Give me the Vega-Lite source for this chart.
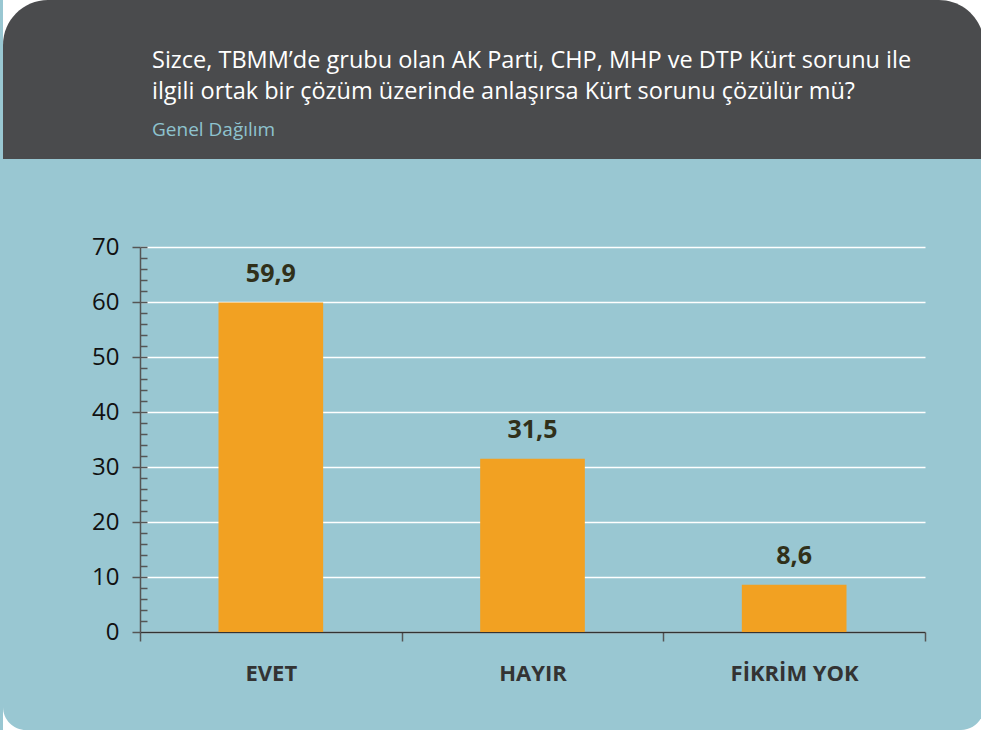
{
  "$schema": "https://vega.github.io/schema/vega-lite/v6.json",
  "background": "#99c7d2",
  "padding": 0,
  "spacing": 76,
  "config": {
    "font": "Open Sans",
    "view": {"stroke": null},
    "locale": {"number": {"decimal": ",", "thousands": ".", "grouping": [3], "currency": ["", " TL"]}}
  },
  "vconcat": [
    {
      "width": 981,
      "height": 159,
      "view": {"fill": "white", "stroke": null},
      "data": {"values": [{}]},
      "title": {
        "text": ["Sizce, TBMM’de grubu olan AK Parti, CHP, MHP ve DTP Kürt sorunu ile", "ilgili ortak bir çözüm üzerinde anlaşırsa Kürt sorunu çözülür mü?"],
        "subtitle": "Genel Dağılım",
        "anchor": "start",
        "frame": "group",
        "orient": "top",
        "baseline": "top",
        "offset": -140,
        "dx": 149,
        "color": "white",
        "fontSize": 23.5,
        "fontWeight": "normal",
        "lineHeight": 31,
        "subtitleColor": "#8ec3cf",
        "subtitleFontSize": 19,
        "subtitlePadding": 18
      },
      "mark": {"type": "rect", "color": "#4a4b4d", "cornerRadiusTopLeft": 45, "cornerRadiusTopRight": 45},
      "encoding": {}
    },
    {
      "spacing": 0,
      "vconcat": [
        {
          "spacing": 0,
          "hconcat": [
            {
              "width": 1,
              "height": 1,
              "data": {"values": [{}]},
              "mark": {"type": "point", "opacity": 0},
              "encoding": {}
            },
            {
              "width": 785,
              "height": 385,
              "data": {"values": [
                {"cevap": "EVET", "yuzde": 59.9},
                {"cevap": "HAYIR", "yuzde": 31.5},
                {"cevap": "FİKRİM YOK", "yuzde": 8.6}
              ]},
              "encoding": {
                "x": {
                  "field": "cevap",
                  "type": "nominal",
                  "sort": null,
                  "scale": {"paddingInner": 0, "paddingOuter": 0},
                  "axis": {
                    "title": null,
                    "labelAngle": 0,
                    "tickBand": "extent",
                    "tickSize": 9,
                    "tickColor": "#555555",
                    "tickWidth": 1.5,
                    "domainColor": "#333333",
                    "domainWidth": 1.5,
                    "labelFont": "Open Sans",
                    "labelFontSize": 22,
                    "labelFontWeight": "bold",
                    "labelColor": "#333333",
                    "labelPadding": 22
                  }
                }
              },
              "layer": [
                {
                  "mark": {"type": "bar", "color": "#f2a122", "width": {"band": 0.4}},
                  "encoding": {
                    "y": {
                      "field": "yuzde",
                      "type": "quantitative",
                      "scale": {"domain": [0, 70], "nice": false},
                      "axis": {
                        "orient": "left",
                        "title": null,
                        "values": [0, 10, 20, 30, 40, 50, 60, 70],
                        "grid": true,
                        "gridColor": "white",
                        "gridWidth": 1.5,
                        "tickSize": 8,
                        "tickColor": "#555555",
                        "tickWidth": 1.5,
                        "domainColor": "#555555",
                        "domainWidth": 1.5,
                        "labelFontSize": 24,
                        "labelColor": "#111111",
                        "labelPadding": 13,
                        "minExtent": 133
                      }
                    }
                  }
                },
                {
                  "mark": {"type": "text", "baseline": "bottom", "dy": -16, "fontSize": 25, "fontWeight": "bold", "color": "#30301a"},
                  "encoding": {
                    "y": {
                      "field": "yuzde",
                      "type": "quantitative",
                      "axis": {
                        "orient": "left",
                        "title": null,
                        "values": [2, 4, 6, 8, 10, 12, 14, 16, 18, 20, 22, 24, 26, 28, 30, 32, 34, 36, 38, 40, 42, 44, 46, 48, 50, 52, 54, 56, 58, 60, 62, 64, 66, 68, 70],
                        "labels": false,
                        "domain": false,
                        "grid": false,
                        "tickSize": -7,
                        "tickColor": "#555555",
                        "tickWidth": 1.5
                      }
                    },
                    "text": {"field": "yuzde", "type": "quantitative", "format": ".1f"}
                  }
                }
              ],
              "resolve": {"axis": {"y": "independent"}}
            }
          ]
        },
        {
          "width": 981,
          "height": 46,
          "view": {"fill": "white", "stroke": null},
          "data": {"values": [{}]},
          "mark": {"type": "rect", "color": "#99c7d2", "cornerRadiusBottomLeft": 45, "cornerRadiusBottomRight": 45},
          "encoding": {}
        }
      ]
    }
  ]
}
